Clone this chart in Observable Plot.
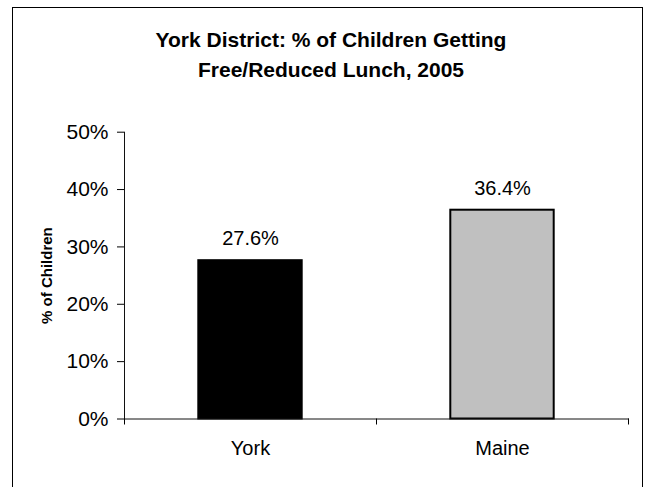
<!DOCTYPE html>
<html>
<head>
<meta charset="utf-8">
<script src="https://cdn.jsdelivr.net/npm/d3@7"></script>
<script src="https://cdn.jsdelivr.net/npm/@observablehq/plot@0.6"></script>
<style>
  html, body { margin: 0; padding: 0; background: #fff; }
  #wrap { position: relative; width: 649px; height: 487px; overflow: hidden; background: #fff;
          font-family: Arial, "Liberation Sans", sans-serif; }
  #border { position: absolute; left: 12px; top: 7px; width: 631px; height: 500px;
            border: 1.5px solid #000; box-sizing: border-box; }
  #title { position: absolute; left: 13px; width: 636px; top: 25px; text-align: center;
           font-weight: bold; font-size: 21px; line-height: 30px; color: #000; }
  #chart { position: absolute; left: 0; top: 0; }
</style>
</head>
<body>
<div id="wrap">
  <div id="border"></div>
  <div id="title">York District: % of Children Getting<br>Free/Reduced Lunch, 2005</div>
  <div id="chart"></div>
</div>
<script>
const categories = ["York", "Maine"];
const values = [27.6, 36.4];
const colors = ["#000000", "#C0C0C0"];
const yTicks = [0, 10, 20, 30, 40, 50];
const yLabel = "% of Children";

const data = categories.map((c, i) => ({ i, category: c, value: values[i], color: colors[i] }));
const boundaries = d3.range(categories.length + 1);
const mids = categories.map((c, i) => i + 0.5);

const chart = Plot.plot({
  width: 649,
  height: 487,
  marginLeft: 124,
  marginRight: 21,
  marginTop: 131.7,
  marginBottom: 68.5,
  style: { fontFamily: "Arial, 'Liberation Sans', sans-serif", background: "transparent", color: "#000" },
  x: { type: "linear", domain: [0, categories.length] },
  y: { domain: [0, 50] },
  marks: [
    Plot.rectY(data, {
      x1: d => d.i, x2: d => d.i + 1, y1: 0, y2: "value",
      fill: d => d.color, stroke: "#000", strokeWidth: 2,
      insetLeft: 74.3, insetRight: 74.3
    }),
    Plot.frame({ anchor: "left", stroke: "#111", strokeWidth: 1 }),
    Plot.frame({ anchor: "bottom", stroke: "#111", strokeWidth: 1 }),
    Plot.axisY({ ticks: yTicks, tickSize: 7, tickPadding: 9, fontSize: 21, tickFormat: d => d + "%", label: null }),
    Plot.axisX({ ticks: boundaries, tickSize: 6, tickFormat: () => "", label: null }),
    Plot.axisX({ ticks: mids, tickSize: 0, tickPadding: 22, fontSize: 20, tickFormat: d => categories[Math.floor(d)], label: null }),
    Plot.text(data, {
      x: d => d.i + 0.5, y: "value", text: d => d.value.toFixed(1) + "%",
      fontSize: 20, dy: -22, fill: "#000"
    }),
    Plot.text([yLabel], { frameAnchor: "left", textAnchor: "middle", rotate: -90, dx: -77, fontSize: 15, fontWeight: "bold", fill: "#000" })
  ]
});
document.getElementById("chart").appendChild(chart);
</script>
</body>
</html>
